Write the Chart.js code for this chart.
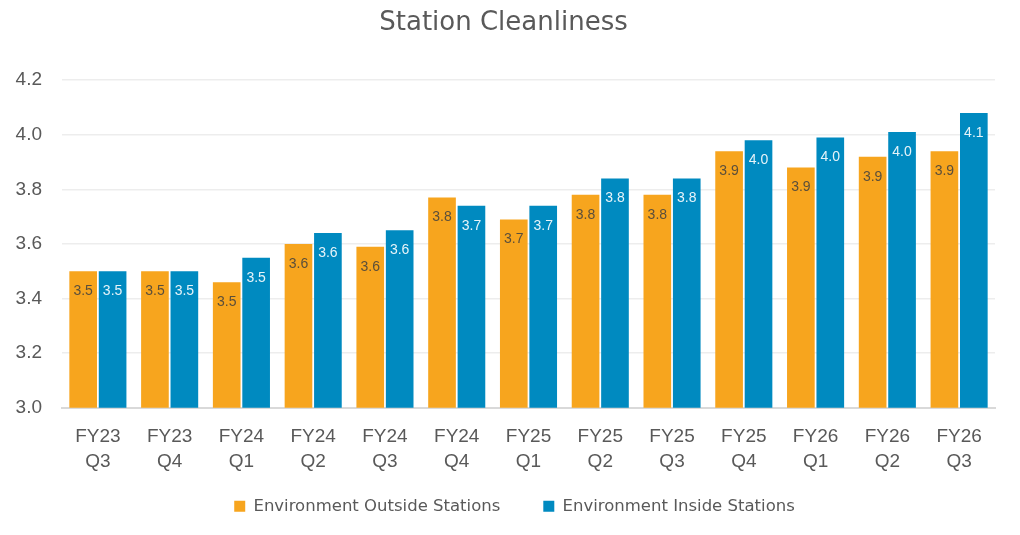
<!DOCTYPE html>
<html>
<head>
<meta charset="utf-8">
<script src="https://cdn.jsdelivr.net/npm/chart.js@4/dist/chart.umd.min.js"></script>
<style>
html,body{margin:0;padding:0;background:#fff;}
#wrap{width:1020px;height:535px;position:relative;}
</style>
</head>
<body>
<div id="wrap"><canvas id="c" width="1020" height="535"></canvas></div>
<script>
const categories = [['FY23','Q3'],['FY23','Q4'],['FY24','Q1'],['FY24','Q2'],['FY24','Q3'],['FY24','Q4'],['FY25','Q1'],['FY25','Q2'],['FY25','Q3'],['FY25','Q4'],['FY26','Q1'],['FY26','Q2'],['FY26','Q3']];
const outsideValues = [3.50, 3.50, 3.46, 3.60, 3.59, 3.77, 3.69, 3.78, 3.78, 3.94, 3.88, 3.92, 3.94];
const insideValues  = [3.50, 3.50, 3.55, 3.64, 3.65, 3.74, 3.74, 3.84, 3.84, 3.98, 3.99, 4.01, 4.08];
const seriesNames = ['Environment Outside Stations', 'Environment Inside Stations'];
const yTicks = [3.0, 3.2, 3.4, 3.6, 3.8, 4.0, 4.2];

const FONT = "'Liberation Sans', Arial, sans-serif";
const WIDE = "'DejaVu Sans', sans-serif";
const labelColors = ['rgba(64,64,64,0.85)', 'rgba(255,255,255,0.9)'];

const LEGEND_H = 45;
const LEGEND_SHIFT = 35;
const LEGEND_DX = 11;

const barLabels = {
  id: 'barLabels',
  afterDatasetsDraw(chart) {
    const ctx = chart.ctx;
    ctx.save();
    ctx.font = '14px ' + FONT;
    ctx.textAlign = 'center';
    ctx.textBaseline = 'middle';
    chart.data.datasets.forEach((ds, di) => {
      const meta = chart.getDatasetMeta(di);
      ctx.fillStyle = labelColors[di];
      meta.data.forEach((bar, i) => {
        ctx.fillText(ds.data[i].toFixed(1), bar.x, bar.y + 20);
      });
    });
    ctx.restore();
  }
};

const legendTweak = {
  id: 'legendTweak',
  afterInit(chart) {
    const lg = chart.legend;
    if (!lg) return;
    const fit = lg.fit;
    lg.fit = function () { fit.call(this); this.height = LEGEND_H; };
    const draw = lg.draw;
    lg.draw = function () {
      const t = this.top, l = this.left, r = this.right;
      this.top = t - LEGEND_SHIFT;
      this.left = l + LEGEND_DX;
      this.right = r + LEGEND_DX;
      draw.call(this);
      this.top = t; this.left = l; this.right = r;
    };
  }
};

new Chart(document.getElementById('c'), {
  type: 'bar',
  data: {
    labels: categories,
    datasets: [
      { label: seriesNames[0], data: outsideValues, backgroundColor: '#F7A51E', categoryPercentage: 0.82, barPercentage: 0.94 },
      { label: seriesNames[1], data: insideValues, backgroundColor: '#008AC0', categoryPercentage: 0.82, barPercentage: 0.94 }
    ]
  },
  options: {
    responsive: false,
    animation: false,
    devicePixelRatio: 1,
    layout: { padding: { left: 12, right: 25, top: 0, bottom: 0 } },
    plugins: {
      title: {
        display: true,
        text: 'Station Cleanliness',
        color: '#595959',
        font: { family: WIDE, size: 26, weight: 'normal' },
        padding: { top: 8, bottom: 41 }
      },
      legend: {
        position: 'bottom',
        labels: {
          color: '#595959',
          font: { family: WIDE, size: 16.5 },
          boxWidth: 11,
          boxHeight: 11,
          padding: 43
        }
      },
      tooltip: { enabled: false }
    },
    scales: {
      x: {
        grid: { display: false, drawTicks: false },
        border: { color: '#d9d9d9', width: 2 },
        ticks: { color: '#595959', font: { family: FONT, size: 19, lineHeight: 1.32 }, padding: 16, maxRotation: 0, autoSkip: false }
      },
      y: {
        min: 3.0,
        max: 4.2,
        afterFit(scale) { scale.width = 50; },
        afterBuildTicks(scale) { scale.ticks = yTicks.map(v => ({ value: v })); },
        grid: { color: '#ededed', lineWidth: 1.5, drawTicks: false },
        border: { display: false },
        ticks: { color: '#595959', font: { family: FONT, size: 19 }, padding: 20, callback: v => Number(v).toFixed(1) }
      }
    }
  },
  plugins: [barLabels, legendTweak]
});
</script>
</body>
</html>
